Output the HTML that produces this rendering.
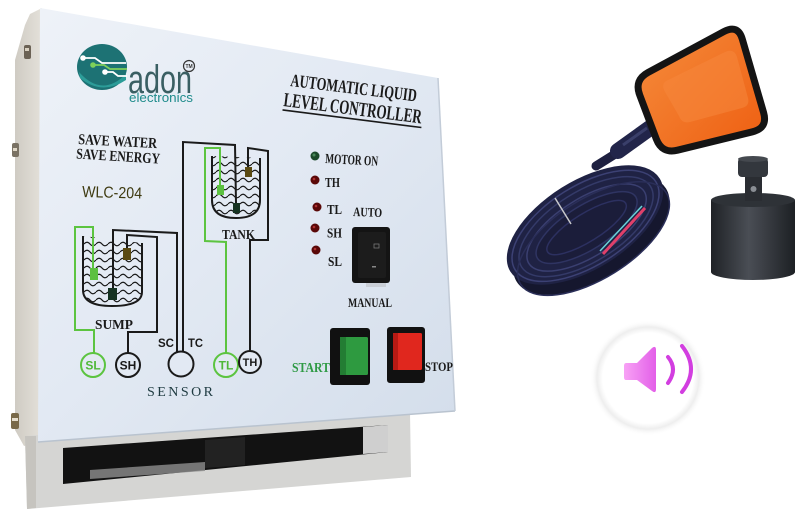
<!DOCTYPE html>
<html><head><meta charset="utf-8"><style>
html,body{margin:0;padding:0;background:#fff;overflow:hidden;}
svg{display:block;}
.sb{font-family:"Liberation Serif",serif;font-weight:bold;fill:#1a1a1a;}
.ss{font-family:"Liberation Sans",sans-serif;font-weight:bold;}
</style></head><body>
<svg width="800" height="517" viewBox="0 0 800 517" xmlns="http://www.w3.org/2000/svg">
<defs>
<linearGradient id="face" x1="40" y1="8" x2="455" y2="420" gradientUnits="userSpaceOnUse">
<stop offset="0" stop-color="#eef2f8"/><stop offset="0.5" stop-color="#e2e9f3"/><stop offset="1" stop-color="#d4deeb"/>
</linearGradient>
<linearGradient id="side" x1="15" y1="0" x2="42" y2="0" gradientUnits="userSpaceOnUse">
<stop offset="0" stop-color="#cfcbc3"/><stop offset="1" stop-color="#e4e1da"/>
</linearGradient>
<pattern id="wave" width="12" height="8" patternUnits="userSpaceOnUse">
<path d="M0,4 q3,-3.5 6,0 t6,0" fill="none" stroke="#1a1a1a" stroke-width="1.2"/>
</pattern>
<linearGradient id="wt" x1="711" y1="0" x2="795" y2="0" gradientUnits="userSpaceOnUse">
<stop offset="0" stop-color="#1f2226"/><stop offset="0.45" stop-color="#4a4e55"/><stop offset="1" stop-color="#1d2024"/>
</linearGradient>
<radialGradient id="glow" cx="648" cy="378" r="58" gradientUnits="userSpaceOnUse">
<stop offset="0" stop-color="#ffffff"/><stop offset="0.78" stop-color="#ffffff"/><stop offset="0.88" stop-color="#eeeeee"/><stop offset="1" stop-color="#ffffff" stop-opacity="0"/>
</radialGradient>
<linearGradient id="spk" x1="625" y1="0" x2="656" y2="0" gradientUnits="userSpaceOnUse">
<stop offset="0" stop-color="#f7a0f5"/><stop offset="1" stop-color="#e35fe8"/>
</linearGradient>
<linearGradient id="org" x1="640" y1="40" x2="760" y2="150" gradientUnits="userSpaceOnUse">
<stop offset="0" stop-color="#f58a3a"/><stop offset="1" stop-color="#ee5f12"/>
</linearGradient>
</defs>

<!-- side of enclosure -->
<polygon points="30,14 42,8 40,442 24,446 15,430 15,60 25,25" fill="url(#side)"/>
<!-- screws -->
<rect x="24" y="45" width="7" height="14" rx="2" fill="#6b6255"/><rect x="25" y="48" width="4" height="3" fill="#d8d0c0"/>
<rect x="12" y="143" width="7" height="14" rx="2" fill="#7a7264"/><rect x="13" y="148" width="4" height="3" fill="#e0d8c8"/>
<rect x="11" y="413" width="8" height="16" rx="2" fill="#7a6a4a"/><rect x="12" y="418" width="6" height="3" fill="#e8e0d0"/>

<!-- bottom box -->
<polygon points="25,436 410,412 411,477 27,509" fill="#d5d5d3"/>
<polygon points="25,436 36,436 36,508 27,509" fill="#c6c4bf"/>
<polygon points="63,448 388,425 388,452 63,484" fill="#121212"/>
<polygon points="363,427 388,425 388,452 363,454" fill="#cfcfcf"/>
<polygon points="90,470 205,462 205,471 90,479" fill="#8e8e8e" opacity="0.8"/>
<polygon points="205,440 245,437 245,465 205,468" fill="#222"/>

<!-- face -->
<polygon points="40,8 438,78 455,411 38,442" fill="url(#face)"/>
<polyline points="38,442 455,411" fill="none" stroke="#b9c3cf" stroke-width="1.5"/>
<polyline points="438,78 455,411" fill="none" stroke="#c3ccd8" stroke-width="1.5"/>

<!-- logo -->
<ellipse cx="102" cy="67" rx="25" ry="23" fill="#1d7274"/>
<path d="M79,72 Q102,98 126,74 L126,80 Q102,96 80,78 Z" fill="#2c9c98"/>
<polyline points="83,58 95,58 102,63 126,63" fill="none" stroke="#fff" stroke-width="1.8"/>
<polyline points="93,65 104,65 110,69 127,69" fill="none" stroke="#7ed05a" stroke-width="1.8"/>
<polyline points="105,72 113,72 118,76 127,76" fill="none" stroke="#fff" stroke-width="1.8"/>
<circle cx="83" cy="58" r="2.8" fill="#fff"/><circle cx="93" cy="65" r="2.8" fill="#7ed05a"/><circle cx="105" cy="72" r="2.8" fill="#fff"/>
<text x="128" y="93" font-family="Liberation Sans,sans-serif" font-size="40" fill="#3a5f63" textLength="64" lengthAdjust="spacingAndGlyphs">adon</text>
<text x="129" y="102" font-family="Liberation Sans,sans-serif" font-size="13" fill="#1f8c8c" textLength="64" lengthAdjust="spacingAndGlyphs">electronics</text>
<circle cx="189" cy="66" r="5.5" fill="none" stroke="#333" stroke-width="1.2"/>
<text x="185.5" y="68" font-family="Liberation Sans,sans-serif" font-size="5" font-weight="bold" fill="#333">TM</text>

<!-- title -->
<text class="sb" x="290" y="86" font-size="18" textLength="127" lengthAdjust="spacingAndGlyphs" transform="rotate(7 290 86)">AUTOMATIC LIQUID</text>
<g transform="rotate(7.2 283 106)">
<text class="sb" x="283" y="106" font-size="20" textLength="139" lengthAdjust="spacingAndGlyphs">LEVEL CONTROLLER</text>
<line x1="283" y1="110" x2="423" y2="110" stroke="#1a1a1a" stroke-width="1.6"/>
</g>

<text class="sb" x="78" y="144" font-size="15" textLength="79" lengthAdjust="spacingAndGlyphs" transform="rotate(3 78 144)">SAVE WATER</text>
<text class="sb" x="76" y="158.5" font-size="15" textLength="84" lengthAdjust="spacingAndGlyphs" transform="rotate(3.5 76 158.5)">SAVE ENERGY</text>
<text x="82" y="197" font-family="Liberation Sans,sans-serif" font-size="16" fill="#3e3a10" textLength="60" lengthAdjust="spacingAndGlyphs" transform="rotate(1.5 82 197)">WLC-204</text>

<!-- tank -->
<path d="M212,156 L212,200 Q212,218 236,218 Q260,218 260,200 L260,158 Z" fill="url(#wave)"/>
<path d="M212,156 L212,200 Q212,218 236,218 Q260,218 260,200 L260,158" fill="none" stroke="#1a1a1a" stroke-width="2"/>
<text class="sb" x="222" y="239" font-size="14" textLength="33" lengthAdjust="spacingAndGlyphs">TANK</text>
<!-- sump -->
<path d="M83,236 L83,290 Q83,306 112,306 Q142,306 142,292 L142,243 Z" fill="url(#wave)"/>
<path d="M83,236 L83,290 Q83,306 112,306 Q142,306 142,292 L142,243" fill="none" stroke="#1a1a1a" stroke-width="2"/>
<text class="sb" x="95" y="329" font-size="14" textLength="38" lengthAdjust="spacingAndGlyphs">SUMP</text>

<g fill="none" stroke-width="2" stroke-linejoin="miter">
<polyline points="93,268 93,227 75,227 75,330 94,330 94,353" stroke="#5cc440"/>
<polyline points="113,288 113,230 177,233 177,353" stroke="#1a1a1a"/>
<polyline points="127,248 127,235 157,237 157,332 128,332 128,353" stroke="#1a1a1a"/>
<polyline points="183,353 183,142 235,145 236,203" stroke="#1a1a1a"/>
<polyline points="226,353 226,242 205,241 205,148 220,148 220,185" stroke="#5cc440"/>
<polyline points="250,351 250,240 268,240 268,151 248,148 248,167" stroke="#1a1a1a"/>
</g>
<!-- probes -->
<rect x="217" y="185" width="7" height="10" fill="#5cc040"/>
<rect x="245" y="167" width="7" height="10" fill="#5a4a12"/>
<rect x="233" y="203" width="7" height="10" fill="#163322"/>
<rect x="90" y="268" width="8" height="12" fill="#5cc040"/>
<rect x="123" y="248" width="8" height="12" fill="#5a4a12"/>
<rect x="108" y="288" width="9" height="12" fill="#163322"/>

<!-- circles -->
<circle cx="93" cy="365" r="12" fill="#e2e9f3" stroke="#5cc440" stroke-width="2"/>
<text class="ss" x="93" y="369.5" font-size="12" fill="#4fb838" text-anchor="middle">SL</text>
<circle cx="128" cy="365" r="12" fill="#e2e9f3" stroke="#1a1a1a" stroke-width="2"/>
<text class="ss" x="128" y="369.5" font-size="12" fill="#1a1a1a" text-anchor="middle">SH</text>
<circle cx="181" cy="364" r="12.5" fill="#e2e9f3" stroke="#1a1a1a" stroke-width="2"/>
<text class="ss" x="158" y="347" font-size="12" fill="#1a1a1a" textLength="16" lengthAdjust="spacingAndGlyphs">SC</text>
<text class="ss" x="188" y="347" font-size="12" fill="#1a1a1a" textLength="15" lengthAdjust="spacingAndGlyphs">TC</text>
<circle cx="226" cy="365" r="12" fill="#e2e9f3" stroke="#5cc440" stroke-width="2"/>
<text class="ss" x="226" y="369.5" font-size="12" fill="#4fb838" text-anchor="middle">TL</text>
<circle cx="250" cy="362" r="11" fill="#e2e9f3" stroke="#1a1a1a" stroke-width="2"/>
<text class="ss" x="250" y="366" font-size="11" fill="#1a1a1a" text-anchor="middle">TH</text>
<text x="147" y="396" font-family="Liberation Serif,serif" font-size="14" fill="#1e3a40" textLength="66" lengthAdjust="spacing">SENSOR</text>

<!-- LEDs -->
<circle cx="315" cy="156" r="4.5" fill="#1c4a2a"/><circle cx="314" cy="155" r="1.5" fill="#4a8a5a"/>
<circle cx="315" cy="180" r="4.5" fill="#5a0808"/><circle cx="314" cy="179" r="1.3" fill="#b03030"/>
<circle cx="317" cy="207" r="4.5" fill="#5a0808"/><circle cx="316" cy="206" r="1.3" fill="#b03030"/>
<circle cx="315" cy="228" r="4.5" fill="#5a0808"/><circle cx="314" cy="227" r="1.3" fill="#b03030"/>
<circle cx="316" cy="250" r="4.5" fill="#5a0808"/><circle cx="315" cy="249" r="1.3" fill="#b03030"/>
<text class="sb" x="325" y="163" font-size="14" textLength="53" lengthAdjust="spacingAndGlyphs" transform="rotate(3 325 163)">MOTOR ON</text>
<text class="sb" x="325" y="187" font-size="14" textLength="15" lengthAdjust="spacingAndGlyphs">TH</text>
<text class="sb" x="327" y="214" font-size="14" textLength="15" lengthAdjust="spacingAndGlyphs">TL</text>
<text class="sb" x="353" y="216" font-size="13" textLength="29" lengthAdjust="spacingAndGlyphs" transform="rotate(2 353 216)">AUTO</text>
<text class="sb" x="327" y="237.5" font-size="14" textLength="15" lengthAdjust="spacingAndGlyphs">SH</text>
<text class="sb" x="328" y="266" font-size="14" textLength="14" lengthAdjust="spacingAndGlyphs">SL</text>
<!-- rocker -->
<rect x="352" y="227" width="38" height="56" rx="3" fill="#141414"/>
<rect x="358" y="232" width="28" height="46" rx="2" fill="#1c1c1c"/>
<rect x="374" y="244" width="5" height="4" fill="none" stroke="#777" stroke-width="0.8"/>
<rect x="372" y="266" width="4" height="1.5" fill="#888"/>
<rect x="366" y="283" width="20" height="4" fill="#c9ced6"/>
<text class="sb" x="348" y="307" font-size="13" textLength="44" lengthAdjust="spacingAndGlyphs">MANUAL</text>
<!-- start / stop -->
<rect x="330" y="328" width="40" height="57" rx="3" fill="#111"/>
<rect x="340" y="337" width="28" height="38" rx="1.5" fill="#2e9a40"/>
<rect x="340" y="337" width="6" height="38" fill="#237d33"/>
<text class="sb" x="292" y="372" font-size="14" textLength="38" lengthAdjust="spacingAndGlyphs" style="fill:#2f9a45">START</text>
<rect x="387" y="327" width="38" height="56" rx="3" fill="#111"/>
<rect x="393" y="333" width="29" height="37" rx="1.5" fill="#e0271e"/>
<rect x="393" y="333" width="5" height="37" fill="#b81a14"/>
<text class="sb" x="425" y="371" font-size="13" textLength="28" lengthAdjust="spacingAndGlyphs">STOP</text>

<!-- float switch cable coil -->
<g transform="rotate(-32 585 225)">
<ellipse cx="585" cy="237" rx="88" ry="44" fill="#15172e"/>
<ellipse cx="585" cy="225" rx="88" ry="44" fill="#1f2244"/>
<ellipse cx="585" cy="226" rx="83" ry="40" fill="none" stroke="#3c4174" stroke-width="1.5"/>
<ellipse cx="585" cy="227" rx="76" ry="35" fill="none" stroke="#343a68" stroke-width="1.5"/>
<ellipse cx="585" cy="228" rx="68" ry="29" fill="none" stroke="#3a3f70" stroke-width="1.5"/>
<ellipse cx="585" cy="228" rx="58" ry="22" fill="#1b1d3a" stroke="#2f3462" stroke-width="1.5"/>
<ellipse cx="585" cy="228" rx="46" ry="14" fill="none" stroke="#2c3060" stroke-width="1.5"/>
<ellipse cx="585" cy="241" rx="86" ry="40" fill="none" stroke="#2a2e58" stroke-width="1.5"/>
</g>
<line x1="645" y1="208" x2="603" y2="254" stroke="#e0406a" stroke-width="3"/>
<line x1="642" y1="206" x2="600" y2="251" stroke="#6ad4d8" stroke-width="1.5"/>
<line x1="555" y1="198" x2="571" y2="224" stroke="#c8c8cc" stroke-width="1.5"/>
<!-- neck/connector -->
<line x1="596" y1="166" x2="620" y2="151" stroke="#1e2040" stroke-width="9" stroke-linecap="round"/>
<line x1="618" y1="151" x2="650" y2="128" stroke="#22254a" stroke-width="16" stroke-linecap="round"/>
<line x1="623" y1="145" x2="647" y2="128" stroke="#3a3f6a" stroke-width="3"/>
<!-- float body -->
<path d="M648.1,72.4 L723.9,31.6 Q738,24 742.4,39.4 L763.6,112.6 Q768,128 752.5,131.8 L677.5,150.2 Q662,154 656.3,139 L639.7,95 Q634,80 648.1,72.4 Z" fill="url(#org)" stroke="#141414" stroke-width="7" stroke-linejoin="round"/>
<path d="M668,80 L725,52 Q734,48 737,57 L748,98 Q750,106 742,108 L690,122 Q682,124 679,116 L664,90 Q661,83 668,80 Z" fill="#f6873c" opacity="0.55"/>

<!-- weight -->
<rect x="711" y="200" width="84" height="72" fill="url(#wt)"/>
<ellipse cx="753" cy="272" rx="42" ry="8" fill="url(#wt)"/>
<ellipse cx="753" cy="200" rx="42" ry="7" fill="#2e3237"/>
<rect x="745" y="174" width="17" height="27" fill="#2a2d32"/>
<circle cx="753.5" cy="189" r="3" fill="#8a8e94"/>
<rect x="738" y="158" width="30" height="19" rx="4" fill="#33373d"/>
<ellipse cx="753" cy="159" rx="15" ry="3" fill="#45494f"/>

<!-- sound icon -->
<circle cx="648" cy="378" r="58" fill="url(#glow)"/>
<path d="M626,363 L637,363 L652,348 Q656,345 656,350 L656,389 Q656,394 652,391 L637,380 L626,380 Q624,380 624,377 L624,366 Q624,363 626,363 Z" fill="url(#spk)"/>
<path d="M668,357 Q678,369 668,383" fill="none" stroke="#d23ee0" stroke-width="4" stroke-linecap="round"/>
<path d="M682,346 Q700,369 682,392" fill="none" stroke="#d23ee0" stroke-width="4" stroke-linecap="round"/>
</svg>
</body></html>
